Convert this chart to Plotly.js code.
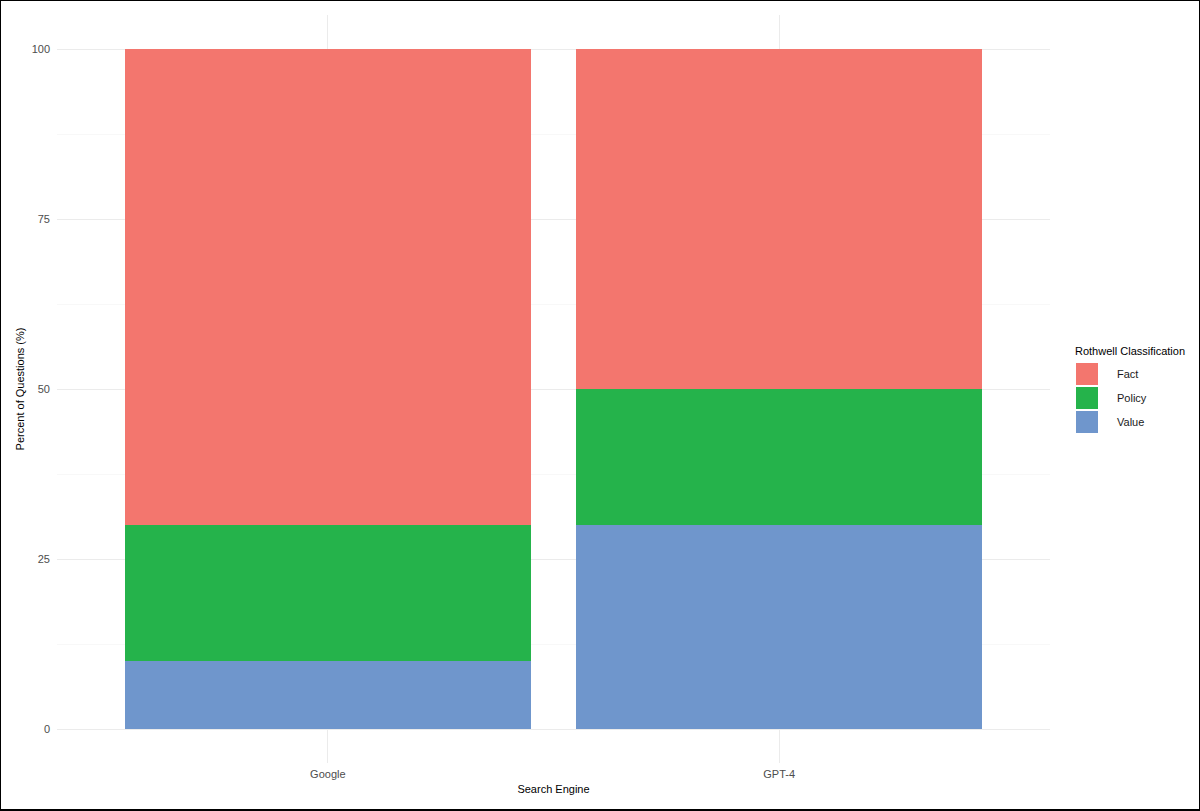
<!DOCTYPE html>
<html>
<head>
<meta charset="utf-8">
<script src="https://cdn.plot.ly/plotly-3.0.1.min.js"></script>
<style>
  html, body { margin: 0; padding: 0; background: #fff; }
  #frame { width: 1200px; height: 811px; box-sizing: border-box; border: 1px solid #000; border-bottom-width: 2px; overflow: hidden; }
  #chart { width: 1198px; height: 808px; }
</style>
</head>
<body>
<div id="frame"><div id="chart"></div></div>
<script>
// ---- data ----
var categories = ['Google', 'GPT-4'];
var classes = ['Fact', 'Policy', 'Value'];
var factVals = [70, 50];
var policyVals = [20, 20];
var valueVals = [10, 30];
var yTicks = [0, 25, 50, 75, 100];
var legendTitle = 'Rothwell Classification';

var colors = { Fact: '#f3766e', Policy: '#25b34b', Value: '#6f96cc' };
var seriesByClass = { Fact: factVals, Policy: policyVals, Value: valueVals };

var W = 1198, H = 808;
var M = { l: 56, r: 149, t: 14, b: 46 };
var PW = W - M.l - M.r, PH = H - M.t - M.b;
function px2x(px) { return (px - 1 - M.l) / PW; }
function py2y(py) { return (H - M.b - (py - 1)) / PH; }

// stacked from bottom: Value, Policy, Fact
var stackOrder = ['Value', 'Policy', 'Fact'];
var traces = stackOrder.map(function (c) {
  return {
    type: 'bar',
    name: c,
    x: categories,
    y: seriesByClass[c],
    width: 0.9,
    marker: { color: colors[c], line: { width: 0 } },
    showlegend: false,
    hoverinfo: 'x+y+name'
  };
});

var font = 'Liberation Sans, Arial, Helvetica, sans-serif';
var shapes = [], annotations = [];

annotations.push({
  xref: 'paper', yref: 'paper', x: px2x(1073), y: py2y(351),
  xanchor: 'left', yanchor: 'middle', showarrow: false,
  text: legendTitle, font: { family: font, size: 11, color: '#000' }
});
classes.forEach(function (c, i) {
  var top = 363 + i * 24;
  shapes.push({
    type: 'rect', xref: 'paper', yref: 'paper',
    x0: px2x(1076), x1: px2x(1098), y0: py2y(top + 22), y1: py2y(top),
    fillcolor: colors[c], line: { width: 0 }
  });
  annotations.push({
    xref: 'paper', yref: 'paper', x: px2x(1115), y: py2y(top + 11),
    xanchor: 'left', yanchor: 'middle', showarrow: false,
    text: c, font: { family: font, size: 11, color: '#1a1a1a' }
  });
});

var layout = {
  width: W, height: H,
  margin: M,
  barmode: 'stack',
  paper_bgcolor: '#fff',
  plot_bgcolor: '#fff',
  font: { family: font, size: 11, color: '#4d4d4d' },
  showlegend: false,
  xaxis: {
    type: 'category',
    range: [-0.6, 1.6],
    showgrid: true, gridcolor: '#ebebeb', gridwidth: 1,
    zeroline: false, showline: false, ticks: '',
    ticklabelstandoff: 3,
    tickfont: { family: font, size: 11, color: '#4d4d4d' },
    title: { text: 'Search Engine', font: { family: font, size: 11, color: '#000' }, standoff: 6 },
    automargin: false
  },
  yaxis: {
    range: [-5, 105],
    tickvals: yTicks,
    ticktext: yTicks.map(String),
    showgrid: true, gridcolor: '#ebebeb', gridwidth: 1,
    minor: { dtick: 12.5, tick0: 0, showgrid: true, gridcolor: '#f4f4f4', gridwidth: 0.6, ticks: '' },
    zeroline: false, showline: false, ticks: '',
    ticklabelstandoff: 6,
    tickfont: { family: font, size: 11, color: '#4d4d4d' },
    title: { text: 'Percent of Questions (%)', font: { family: font, size: 11, color: '#000' }, standoff: 4 },
    automargin: false
  },
  shapes: shapes,
  annotations: annotations
};

Plotly.newPlot('chart', traces, layout, { displayModeBar: false, staticPlot: true });
</script>
</body>
</html>
